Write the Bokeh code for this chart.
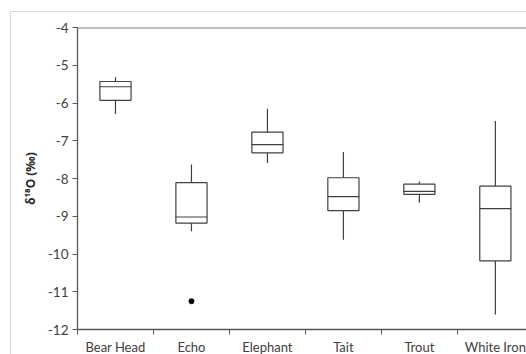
from bokeh.plotting import figure
from bokeh.models import Range1d, FixedTicker, Span
from bokeh.embed import file_html
from bokeh.resources import INLINE

sites = ["Bear Head", "Echo", "Elephant", "Tait", "Trout", "White Iron"]
whisker_low = [-6.29, -9.40, -7.59, -9.62, -8.64, -11.60]
q1 = [-5.93, -9.18, -7.32, -8.85, -8.42, -10.18]
median = [-5.57, -9.02, -7.10, -8.48, -8.34, -8.80]
q3 = [-5.43, -8.11, -6.77, -7.98, -8.15, -8.20]
whisker_high = [-5.32, -7.63, -6.15, -7.30, -8.08, -6.48]
outlier_site = ["Echo"]
outlier_value = [-11.25]
y_ticks = list(range(-12, -3))

centers = [i + 0.5 for i in range(len(sites))]
bounds = list(range(len(sites) + 1))
ox = [centers[sites.index(s)] for s in outlier_site]

FONT = "Lato"
AX = "#595959"
LINE = "#404040"

p = figure(frame_width=449, frame_height=302, output_backend="svg", toolbar_location=None,
           x_range=Range1d(0, 5.91), y_range=Range1d(-12, -4),
           min_border_left=66, min_border_right=0, min_border_top=15,
           min_border_bottom=14)
p.styles = {"border-left": "1px solid #d9d9d9", "border-top": "1px solid #d9d9d9",
            "margin-left": "10px", "margin-top": "11px"}
p.grid.visible = False
p.outline_line_color = None
p.background_fill_color = "white"

# whiskers
p.segment(x0=centers, y0=whisker_low, x1=centers, y1=q1, line_color=LINE, line_width=1.2)
p.segment(x0=centers, y0=q3, x1=centers, y1=whisker_high, line_color=LINE, line_width=1.2)
# boxes
p.vbar(x=centers, width=0.41, bottom=q1, top=q3, fill_color="white",
       line_color=LINE, line_width=1.2)
# medians
p.rect(x=centers, y=median, width=0.41, height=0.0001, line_color=LINE,
       line_width=1.2, fill_color=None)
# outliers
p.scatter(x=ox, y=outlier_value, size=5, color="black")

p.add_layout(Span(location=-4, dimension="width", line_color="#7f7f7f", line_width=2))

xa = p.xaxis[0]
xa.ticker = FixedTicker(ticks=centers, minor_ticks=bounds)
xa.major_label_overrides = {c: s for c, s in zip(centers, sites)}
xa.major_tick_line_color = None
xa.major_tick_out = 0
xa.major_tick_in = 0
xa.minor_tick_out = 5
xa.minor_tick_in = 0
xa.minor_tick_line_color = AX
xa.axis_line_color = AX
xa.axis_line_width = 1.3
xa.major_label_standoff = 4
xa.major_label_text_font = FONT
xa.major_label_text_font_size = "13px"
xa.major_label_text_color = "#404040"

ya = p.yaxis[0]
ya.ticker = FixedTicker(ticks=y_ticks)
ya.major_label_overrides = {t: str(t) for t in y_ticks}
ya.minor_tick_line_color = None
ya.major_tick_out = 5
ya.major_tick_in = 0
ya.major_tick_line_color = AX
ya.axis_line_color = AX
ya.axis_line_width = 1.3
ya.major_label_standoff = 4
ya.major_label_text_font = FONT
ya.major_label_text_font_size = "13.5px"
ya.major_label_text_color = "#404040"
ya.axis_label = "δ¹⁸O (‰)"
ya.axis_label_text_font = "Noto Sans"
ya.axis_label_text_font_style = "bold"
ya.axis_label_text_font_size = "12px"
ya.axis_label_text_color = "#262626"
ya.axis_label_standoff = 6

open("out.html", "w").write(file_html(p, INLINE))
